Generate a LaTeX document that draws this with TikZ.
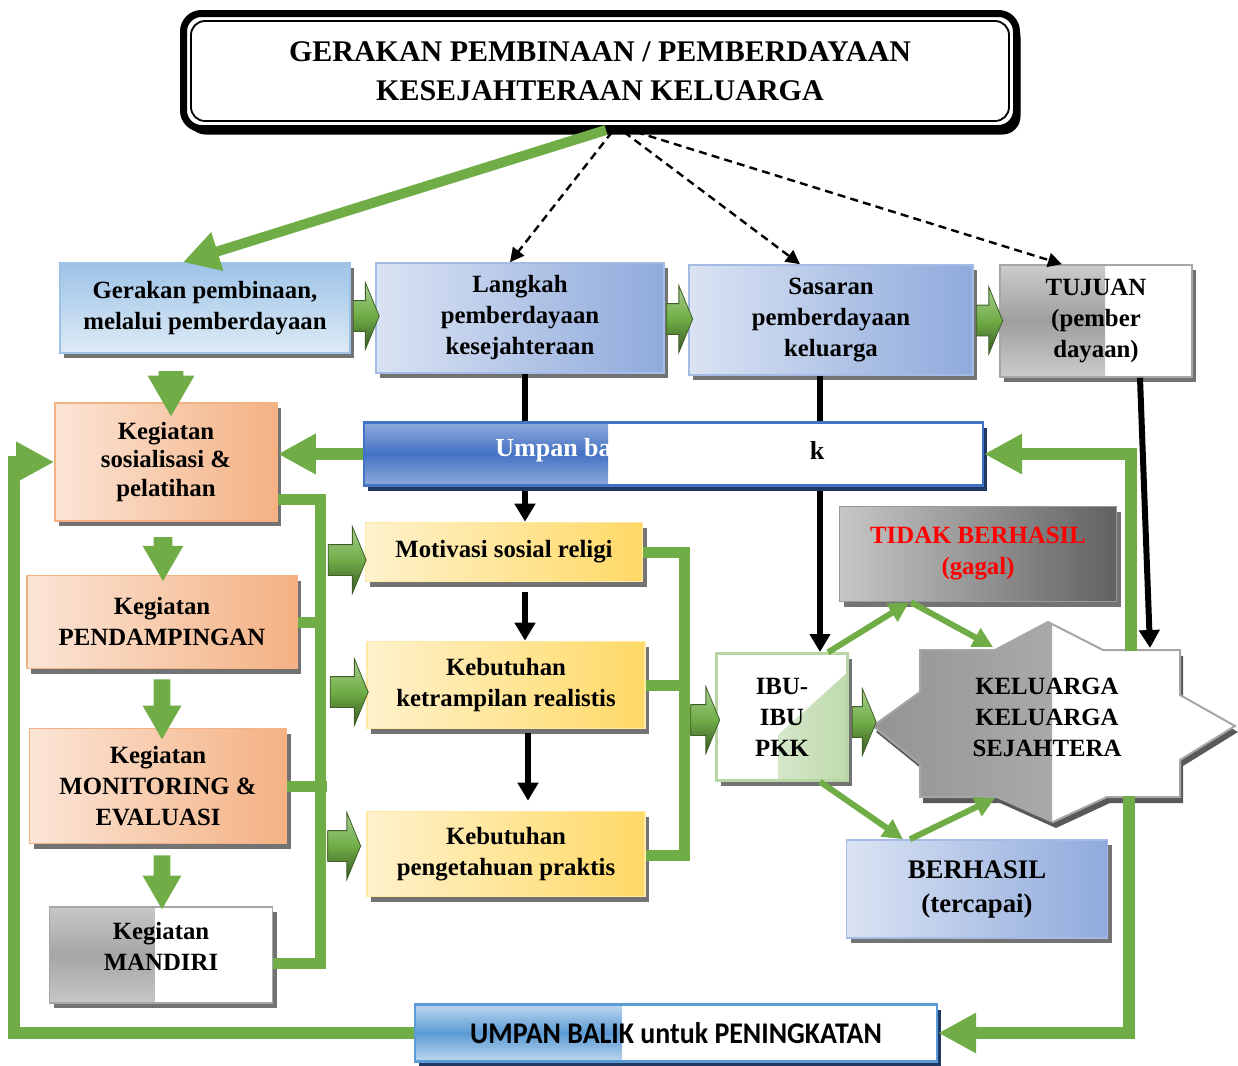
\documentclass[tikz,border=0pt]{standalone}
\usepackage{fontspec}
\setmainfont{Liberation Serif}
\newfontfamily\barfont[FakeStretch=0.93]{Carlito}
\usepackage{xcolor}
\definecolor{leaf}{HTML}{70AD47}
\definecolor{bluel}{HTML}{DAE3F3}
\definecolor{blued}{HTML}{8FAADC}
\definecolor{skyl}{HTML}{DEEBF7}
\definecolor{skyd}{HTML}{9DC3E6}
\definecolor{peachl}{HTML}{FBE5D6}
\definecolor{peachd}{HTML}{F4B183}
\definecolor{goldl}{HTML}{FFF2CC}
\definecolor{goldd}{HTML}{FFD966}
\definecolor{royal}{HTML}{4472C4}
\definecolor{royall}{HTML}{8FAADC}
\definecolor{steel}{HTML}{5B9BD5}
\definecolor{steell}{HTML}{BDD7EE}
\definecolor{navy}{HTML}{203864}
\usepackage{tikz}
\usetikzlibrary{positioning,arrows.meta,shapes.arrows,shadows,calc}
\tikzset{
  sz/.style 2 args={minimum width=#1*0.5pt,minimum height=#2*0.5pt},
  shd/.style={drop shadow={shadow xshift=2.2pt,shadow yshift=-2.5pt,fill=#1,opacity=1}},
  shd/.default=black!55,
  box/.style={rectangle,align=center,inner sep=2pt,line width=0.8pt,
    font=\fontsize{12.4}{15.5}\selectfont\bfseries},
  boxb/.style={box,shd,draw=blued!80,left color=bluel,right color=blued},
  boxs/.style={box,shd,draw=skyd,top color=skyd,bottom color=skyl},
  boxo/.style={box,shd,draw=peachd,left color=peachl,right color=peachd},
  boxy/.style={box,shd,draw=goldd!60,left color=goldl,right color=goldd},
  boxg/.style={box,shd,draw=black!40,left color=black!22,right color=black!62},
  splitbox/.style n args={4}{box,draw=#4,fill=white,
    path picture={\shade[top color=#2,bottom color=#2,middle color=#3]
      (path picture bounding box.north west) rectangle ($(path picture bounding box.south west)+(#1,0)$);}},
  fatr/.style={single arrow,inner xsep=0pt,inner ysep=7.5pt,minimum height=#1*0.5pt,minimum width=0pt,
    single arrow head extend=9pt,single arrow tip angle=135,draw=leaf!55!black,line width=0.4pt,
    top color=leaf!60!white,bottom color=leaf!50!black,middle color=leaf},
  fatd/.style 2 args={single arrow,rotate=-90,inner xsep=0pt,inner ysep=#2*0.25pt,minimum height=#1*0.5pt,
    minimum width=0pt,single arrow head extend=5.5pt,single arrow tip angle=60,fill=leaf},
  gline/.style={draw=leaf,line width=6pt},
  gbr/.style={draw=leaf,line width=5.5pt},
  garrow/.style={gline,-{Triangle[length=19pt,width=19pt]}},
  gthin/.style={draw=leaf,line width=3pt,-{Triangle[length=10pt,width=10pt]}},
  barrow/.style={draw=black,line width=3pt,-{Triangle[length=9pt,width=10pt]}},
  darrow/.style={draw=black,line width=1.2pt,dash pattern=on 4pt off 2.6pt,-{Triangle[length=7pt,width=7pt]}},
}
\begin{document}
\begin{tikzpicture}[x=0.5pt,y=-0.5pt]
  \useasboundingbox (0,0) rectangle (1238,1066);
  % title
  \node[rectangle,draw=black,line width=3.5pt,rounded corners=9pt,fill=white,sz={833}{115},align=center,
    font=\fontsize{15}{19.5}\selectfont\bfseries,
    drop shadow={shadow xshift=2pt,shadow yshift=-3pt,fill=black,opacity=1}] (title) at (600,71)
    {GERAKAN PEMBINAAN / PEMBERDAYAAN\\KESEJAHTERAAN KELUARGA};
  \draw[line width=0.9pt,rounded corners=7pt] ([shift={(5.5pt,-5.5pt)}]title.north west)
    rectangle ([shift={(-5.5pt,5.5pt)}]title.south east);
  % first row
  \node[boxs,sz={290}{90}] (gerakan) at (205,308) {Gerakan pembinaan,\\melalui pemberdayaan};
  \node[boxb,sz={288}{110}] (langkah) at (520,318) {Langkah\\pemberdayaan\\kesejahteraan};
  \node[boxb,sz={284}{110}] (sasaran) at (831,320) {Sasaran\\pemberdayaan\\keluarga};
  \node[splitbox={105}{black!20}{black!38}{black!35},shd,sz={192}{112}] (tujuan) at (1096,321)
    {TUJUAN\\(pember\\dayaan)};
  \node[fatr=26] (a1) at ($(gerakan.east)!.5!(langkah.west)+(0,3)$) {};
  \node[fatr=26] (a2) at ($(langkah.east)!.5!(sasaran.west)$) {};
  \node[fatr=26] (a3) at ($(sasaran.east)!.5!(tujuan.west)$) {};
  % from the title
  \draw[draw=leaf,line width=5pt,-{Triangle[length=18pt,width=19pt]}] ([xshift=3pt,yshift=1pt]title.south)
    -- ([xshift=-11pt]gerakan.north);
  \draw[darrow] ([xshift=6pt]title.south) -- ([xshift=-5pt]langkah.north);
  \draw[darrow] ([xshift=12pt]title.south) -- ([xshift=-15.5pt]sasaran.north);
  \draw[darrow] ([xshift=18pt]title.south) -- ([xshift=-17pt]tujuan.north);
  % left column
  \node[boxo,sz={222}{118},font=\fontsize{12.4}{14.3}\selectfont\bfseries] (sos) at (166,462)
    {Kegiatan\\sosialisasi \&\\pelatihan};
  \node[boxo,sz={270}{93}] (pend) at (162,622) {Kegiatan\\PENDAMPINGAN};
  \node[boxo,sz={257}{115}] (monev) at (158,786) {Kegiatan\\MONITORING \&\\EVALUASI};
  \node[splitbox={105}{black!22}{black!35}{black!35},shd,sz={223}{96},text depth=9pt] (mandiri) at (161,955)
    {Kegiatan\\MANDIRI};
  \node[fatd={45}{24}] (d1) at (171,383) {};
  \node[fatd={44}{18}] (d2) at (163,551) {};
  \node[fatd={60}{16}] (d3) at (162,702) {};
  \node[fatd={54}{16}] (d4) at (162,875) {};
  % middle column
  \node[boxy,sz={277}{59}] (motivasi) at (504,552) {Motivasi sosial religi};
  \node[boxy,sz={278}{87}] (trampil) at (506,685) {Kebutuhan\\ketrampilan realistis};
  \node[boxy,sz={278}{85}] (tahu) at (506,854) {Kebutuhan\\pengetahuan praktis};
  \draw[barrow] ([xshift=2.5pt]langkah.south) -- ([xshift=2.5pt]langkah.south |- motivasi.north);
  \draw[barrow] ([xshift=10.5pt,yshift=-5pt]motivasi.south) -- ([xshift=10.5pt]motivasi.south |- trampil.north);
  \draw[barrow] ([xshift=11pt,yshift=-2pt]trampil.south) -- ([xshift=11pt,yshift=5pt]trampil.south |- tahu.north);
  \draw[barrow] ([xshift=-5.5pt]sasaran.south) -- ([xshift=-5.5pt]sasaran.south |- 0,652);
  % brackets
  \coordinate (lbtop) at (320,499);
  \coordinate (lbbot) at (320,963);
  \draw[gbr] (sos.east |- lbtop) -- (lbtop) -- (lbbot) -- (mandiri.east |- lbbot);
  \draw[gbr] (pend.east) -- (pend.east -| lbtop);
  \draw[gbr] (monev.east) -- ([xshift=3.5pt]monev.east -| lbtop);
  \node[fatr=38] (r1) at (344,560) {};
  \node[fatr=38] (r2) at (346,692) {};
  \node[fatr=33] (r3) at (341,846) {};
  \coordinate (rbtop) at (684,552);
  \coordinate (rbbot) at (684,855);
  \draw[gbr] (motivasi.east) -- (rbtop) -- (rbbot) -- (tahu.east |- rbbot);
  \draw[gbr] (trampil.east) -- (trampil.east -| rbtop);
  % feedback bar
  \node[splitbox={244}{royall}{royal}{royal},shd=navy,sz={619}{63},line width=1.2pt] (ubar) at (673.5,454) {};
  \node[anchor=west,inner sep=0pt,text=white,font=\fontsize{13}{15}\selectfont\bfseries] (ubtxt) at (495,450) {Umpan ba};
  \node[inner sep=0pt,font=\fontsize{13}{15}\selectfont\bfseries] (ubk) at (817,450) {k};
  % right part
  \node[box,shd,draw=leaf!50!white,line width=1.2pt,fill=white,sz={131}{127},
    path picture={\shade[left color=leaf!15!white,right color=leaf!45!white]
      ($(path picture bounding box.south west)+(62,0)$) -- (path picture bounding box.south east)
      -- ($(path picture bounding box.north east)+(0,19)$) -- ($(path picture bounding box.south west)+(62,-46)$) -- cycle;}]
    (ibu) at (782,717) {IBU-\\IBU\\PKK};
  \node[fatr=29] (r4) at (702,720) {};
  \node[boxg,text=red,sz={277}{95}] (gagal) at (978,554) {TIDAK BERHASIL\\(gagal)};
  \node[boxb,sz={261}{98},font=\fontsize{13.4}{17}\selectfont\bfseries] (hasil) at (977,889) {BERHASIL\\(tercapai)};
  \path[draw=black!35,line width=1pt,fill=white,
    drop shadow={shadow xshift=1.5pt,shadow yshift=-3pt,fill=black!65,opacity=1},
    path picture={\shade[left color=black!42,right color=black!25] (path picture bounding box.north west)
      rectangle ($(path picture bounding box.south west)+(179,0)$);}]
    (920,650) -- (995,650) -- (1048,622) -- (1103,650) -- (1180,650) -- (1180,695) -- (1235,726)
    -- (1180,760) -- (1180,797) -- (1107,797) -- (1053,822) -- (997,797) -- (920,797) -- (920,764)
    -- (873,726) -- (920,692) -- cycle;
  \coordinate (s-a) at (993,647);
  \coordinate (s-b) at (995,798);
  \coordinate (s-c) at (1150,648);
  \coordinate (s-top) at (1131,651);
  \coordinate (s-bot) at (1129,796);
  \node[align=center,font=\fontsize{12.4}{15.5}\selectfont\bfseries] (kk) at (1047,717)
    {KELUARGA\\KELUARGA\\SEJAHTERA};
  \node[fatr=24] (r5) at (861,722) {};
  \draw[barrow] ([xshift=22pt]tujuan.south) -- (s-c);
  \draw[gthin] ([xshift=23pt]ibu.north) -- ([xshift=-34.5pt]gagal.south);
  \draw[gthin] ([xshift=-33.5pt]gagal.south) -- (s-a);
  \draw[gthin] ([xshift=19pt]ibu.south) -- ([xshift=-37pt]hasil.north);
  \draw[gthin] ([xshift=-33.5pt]hasil.north) -- (s-b);
  % bottom bar and loops
  \node[splitbox={207}{steell}{steel}{steel},shd=navy,sz={522}{57},line width=1.2pt,
    font=\barfont\fontsize{15}{18}\selectfont\bfseries] (bbar) at (676,1033) {UMPAN BALIK untuk PENINGKATAN};
  \coordinate (lloop) at (14,1032);
  \draw[garrow] (bbar.west) -- (bbar.west -| lloop) |- (sos.west);
  \draw[garrow] (ubar.west) -- (ubar.west -| sos.east);
  \draw[garrow] (s-top) |- (ubar.east);
  \draw[garrow] (s-bot) |- (bbar.east);
\end{tikzpicture}
\end{document}
